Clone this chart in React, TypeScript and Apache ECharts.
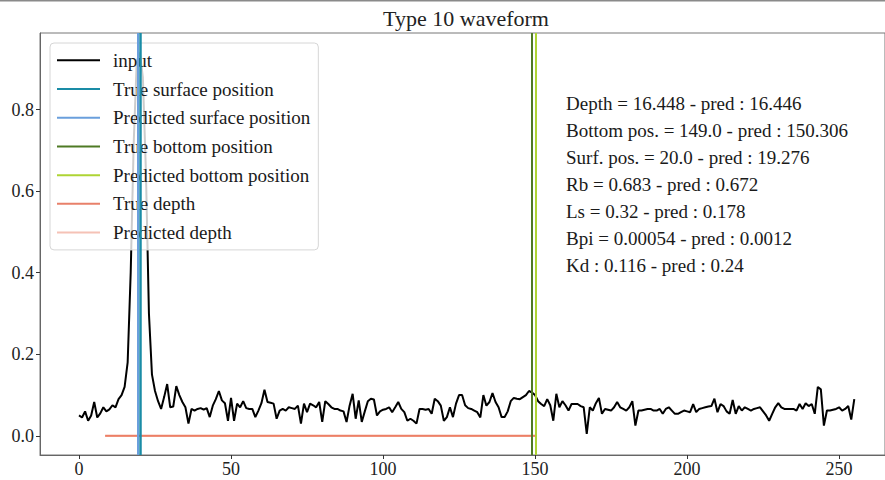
import React, { useEffect, useRef } from "react";
import * as echarts from "echarts";

// ---- data ----
const waveform: number[] = [
  0.050, 0.045, 0.060, 0.037, 0.050, 0.083, 0.045, 0.055, 0.070, 0.060,
  0.065, 0.075, 0.070, 0.090, 0.100, 0.120, 0.180, 0.400, 0.720, 0.920,
  0.940, 0.880, 0.650, 0.300, 0.150, 0.110, 0.085, 0.066, 0.095, 0.127,
  0.070, 0.072, 0.122, 0.100, 0.083, 0.070, 0.030, 0.066, 0.062, 0.066,
  0.068, 0.064, 0.068, 0.046, 0.074, 0.090, 0.110, 0.087, 0.080, 0.037,
  0.093, 0.037, 0.079, 0.070, 0.085, 0.068, 0.066, 0.066, 0.046, 0.062,
  0.080, 0.113, 0.083, 0.081, 0.079, 0.042, 0.062, 0.066, 0.062, 0.070,
  0.068, 0.066, 0.074, 0.030, 0.079, 0.058, 0.079, 0.075, 0.070, 0.083,
  0.034, 0.085, 0.078, 0.070, 0.066, 0.066, 0.062, 0.060, 0.034, 0.074,
  0.103, 0.042, 0.087, 0.034, 0.060, 0.085, 0.091, 0.089, 0.050, 0.060,
  0.064, 0.066, 0.070, 0.058, 0.070, 0.083, 0.066, 0.058, 0.037, 0.042,
  0.037, 0.030, 0.066, 0.066, 0.064, 0.066, 0.054, 0.091, 0.085, 0.074,
  0.037, 0.046, 0.070, 0.046, 0.079, 0.100, 0.100, 0.075, 0.068, 0.066,
  0.062, 0.058, 0.045, 0.100, 0.074, 0.083, 0.105, 0.083, 0.070, 0.046,
  0.046, 0.060, 0.085, 0.093, 0.091, 0.090, 0.095, 0.100, 0.110, 0.106,
  0.100, 0.085, 0.078, 0.073, 0.090, 0.075, 0.037, 0.103, 0.070, 0.085,
  0.075, 0.062, 0.078, 0.078, 0.078, 0.073, 0.070, 0.005, 0.070, 0.062,
  0.080, 0.093, 0.054, 0.066, 0.064, 0.062, 0.070, 0.083, 0.070, 0.066,
  0.062, 0.070, 0.085, 0.025, 0.062, 0.062, 0.064, 0.066, 0.066, 0.062,
  0.062, 0.066, 0.054, 0.066, 0.070, 0.062, 0.054, 0.054, 0.058, 0.062,
  0.060, 0.058, 0.078, 0.058, 0.066, 0.068, 0.070, 0.072, 0.073, 0.091,
  0.058, 0.078, 0.073, 0.060, 0.054, 0.088, 0.054, 0.073, 0.062, 0.070,
  0.066, 0.062, 0.066, 0.068, 0.070, 0.060, 0.050, 0.037, 0.054, 0.070,
  0.080, 0.070, 0.066, 0.066, 0.066, 0.066, 0.062, 0.078, 0.066, 0.080,
  0.073, 0.078, 0.054, 0.120, 0.114, 0.025, 0.062, 0.062, 0.064, 0.066,
  0.070, 0.062, 0.066, 0.073, 0.040, 0.090,
];

const surfacePositions = [20.0, 19.276]; // true, predicted
const bottomPositions = [149.0, 150.306]; // true, predicted
const depthLineX = [8.6, 150.3]; // start, end of the depth segment (y = 0)

const seriesNames = [
  "input",
  "True surface position",
  "Predicted surface position",
  "True bottom position",
  "Predicted bottom position",
  "True depth",
  "Predicted depth",
];

const xTicks = [0, 50, 100, 150, 200, 250];
const yTicks = [0, 0.2, 0.4, 0.6, 0.8];

const annotationLines = [
  "Depth = 16.448 - pred : 16.446",
  "Bottom pos. = 149.0 - pred : 150.306",
  "Surf. pos. = 20.0 - pred : 19.276",
  "Rb = 0.683 - pred : 0.672",
  "Ls = 0.32 - pred : 0.178",
  "Bpi = 0.00054 - pred : 0.0012",
  "Kd : 0.116 - pred : 0.24",
];

const FONT = '"Liberation Serif", "DejaVu Serif", serif';

function vLine(name: string, x: number, color: string, width: number) {
  return {
    name,
    type: "line",
    data: [],
    color,
    silent: true,
    markLine: {
      silent: true,
      symbol: ["none", "none"],
      label: { show: false },
      emphasis: { disabled: true },
      lineStyle: { color, width, type: "solid", opacity: 1 },
      data: [{ xAxis: x }],
    },
  };
}

export default function App() {
  const ref = useRef<HTMLDivElement>(null);
  useEffect(() => {
    if (!ref.current) return;
    const chart = echarts.init(ref.current, undefined, { renderer: "svg" });
    const option: any = {
      animation: false,
      backgroundColor: "#ffffff",
      grid: {
        left: 40,
        right: 0,
        top: 33,
        bottom: 25,
        show: true,
        borderColor: "#777",
        borderWidth: 1,
        containLabel: false,
      },
      xAxis: {
        type: "value",
        min: -12.83,
        max: 265.1,
        axisLine: { show: true, onZero: false, lineStyle: { color: "#666", width: 1 } },
        splitLine: { show: false },
        axisTick: {
          show: true,
          length: 4,
          customValues: xTicks,
          lineStyle: { color: "#333" },
        },
        axisLabel: {
          customValues: xTicks,
          fontFamily: FONT,
          fontSize: 18,
          color: "#222",
          margin: 5,
        },
      },
      yAxis: {
        type: "value",
        min: -0.047,
        max: 0.988,
        axisLine: { show: true, onZero: false, lineStyle: { color: "#666", width: 1 } },
        splitLine: { show: false },
        axisTick: {
          show: true,
          length: 4,
          customValues: yTicks,
          lineStyle: { color: "#333" },
        },
        axisLabel: {
          customValues: yTicks,
          formatter: (v: number) => v.toFixed(1),
          fontFamily: FONT,
          fontSize: 18,
          color: "#222",
          margin: 6,
        },
      },
      legend: {
        orient: "vertical",
        left: 50,
        top: 43,
        padding: [3, 8, 3, 7],
        itemGap: 0,
        itemWidth: 43,
        itemHeight: 2,
        icon: "rect",
        backgroundColor: "rgba(255,255,255,0.8)",
        borderColor: "#d6d6d6",
        borderWidth: 1,
        borderRadius: 4,
        selectedMode: false,
        textStyle: {
          fontFamily: FONT,
          fontSize: 19,
          color: "#1a1a1a",
          lineHeight: 28.7,
          padding: [0, 0, 0, 8],
        },
        data: seriesNames,
      },
      series: [
        {
          name: seriesNames[0],
          type: "line",
          data: waveform.map((v, i) => [i, v]),
          color: "#000000",
          showSymbol: false,
          symbol: "none",
          lineStyle: { color: "#000000", width: 2 },
          silent: true,
          z: 2,
        },
        vLine(seriesNames[1], surfacePositions[0], "#1a8ca6", 2.5),
        vLine(seriesNames[2], surfacePositions[1], "#6a9fdc", 2),
        vLine(seriesNames[3], bottomPositions[0], "#4f7a24", 2),
        vLine(seriesNames[4], bottomPositions[1], "#aed434", 2),
        {
          name: seriesNames[5],
          type: "line",
          data: [
            [depthLineX[0], 0],
            [depthLineX[1], 0],
          ],
          color: "#e8806a",
          symbol: "none",
          lineStyle: { color: "#ec7f66", width: 1.6 },
          silent: true,
          z: 3,
        },
        {
          name: seriesNames[6],
          type: "line",
          data: [
            [depthLineX[0], 0],
            [depthLineX[1], 0],
          ],
          color: "#f5c2b6",
          symbol: "none",
          lineStyle: { color: "#f5c2b6", width: 2.5 },
          silent: true,
          z: 2,
        },
      ],
      graphic: [
        {
          type: "line",
          shape: { x1: 0, y1: 0.5, x2: 885, y2: 0.5 },
          style: { stroke: "#8a8a8a", lineWidth: 2 },
          silent: true,
        },
        {
          type: "text",
          x: 466,
          y: 18,
          style: {
            text: "Type 10 waveform",
            font: `22px ${FONT}`,
            fill: "#222",
            textAlign: "center",
            textVerticalAlign: "middle",
          },
          silent: true,
        },
        {
          type: "text",
          x: 566,
          y: 89.5,
          style: {
            text: annotationLines.join("\n"),
            font: `19px ${FONT}`,
            lineHeight: 27,
            fill: "#1a1a1a",
            textAlign: "left",
            textVerticalAlign: "top",
          },
          silent: true,
        },
      ],
    };
    chart.setOption(option);
    return () => chart.dispose();
  }, []);
  return (
    <div
      ref={ref}
      style={{ position: "fixed", left: 0, top: 0, width: 885, height: 480 }}
    />
  );
}
